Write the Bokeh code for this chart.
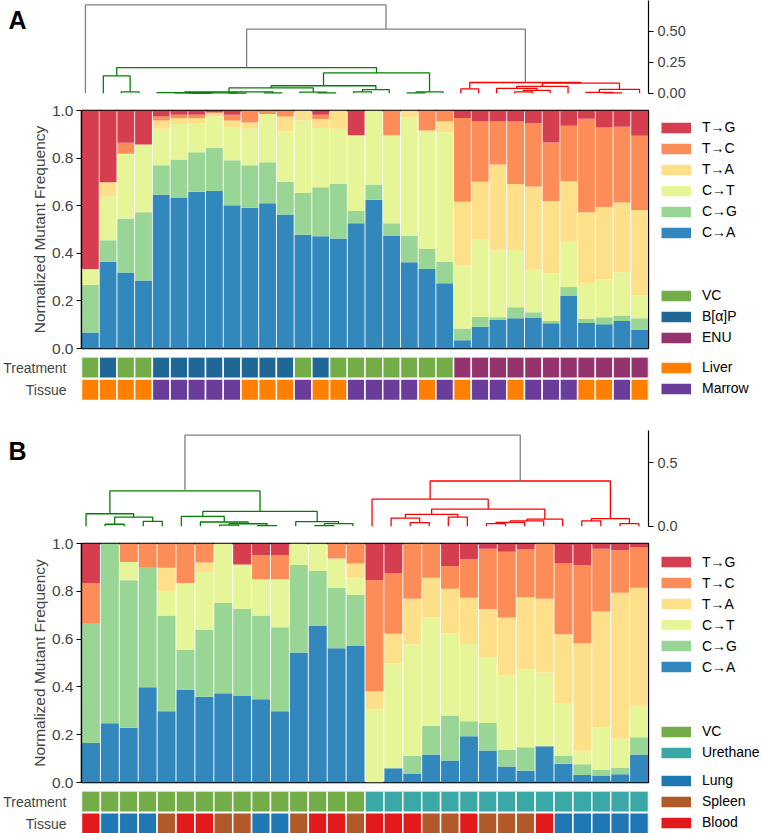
from bokeh.plotting import figure
from bokeh.models import (Range1d, LinearAxis, FixedTicker, NumeralTickFormatter,
                          Legend, LegendItem, Label, ColumnDataSource)
from bokeh.layouts import column, row
from bokeh.embed import file_html
from bokeh.resources import INLINE

FONT = "Liberation Sans"

# ---------------- shared categories ----------------
MUT_KEYS = ["CA", "CG", "CT", "TA", "TC", "TG"]
MUT_LABELS = ["C→A", "C→G", "C→T", "T→A", "T→C", "T→G"]
MUT_COLORS = ["#3288bd", "#99d594", "#e6f598", "#fee08b", "#fc8d59", "#d53e4f"]
BAR_TICKS = [0.0, 0.2, 0.4, 0.6, 0.8, 1.0]
ROW_LABELS = {1: "Treatment", 0: "Tissue"}

# ---------------- panel A data ----------------
A_CA = [.067, .365, .319, .286, .646, .634, .659, .662, .602, .591, .610, .563, .478, .472, .462, .526,
        .625, .475, .362, .334, .274, .035, .091, .121, .127, .128, .106, .223, .107, .102, .116, .078]
A_CG = [.200, .090, .227, .286, .124, .160, .166, .181, .189, .179, .173, .138, .175, .206, .230, .052,
        .064, .051, .112, .084, .090, .049, .041, .010, .046, .024, .010, .035, .018, .029, .023, .049]
A_CT = [.067, .183, .272, .285, .153, .149, .123, .132, .139, .153, .202, .211, .305, .248, .231, .318,
        .311, .370, .498, .498, .545, .267, .328, .281, .241, .179, .200, .188, .147, .160, .181, .097]
A_TA = [0, .061, 0, 0, .035, .025, .020, .014, .028, .027, 0, .063, .042, .038, .077, 0,
        0, 0, .028, 0, .046, .266, .241, .361, .277, .350, .304, .257, .300, .304, .293, .358]
A_TC = [0, 0, .046, 0, .017, .014, .014, .004, .024, .050, .015, .025, 0, .018, 0, 0,
        0, .104, 0, .084, .045, .351, .253, .181, .263, .265, .246, .233, .393, .334, .319, .312]
A_TG = [.666, .301, .136, .143, .025, .018, .018, .007, .018, 0, 0, 0, 0, .018, 0, .104,
        0, 0, 0, 0, 0, .032, .046, .046, .046, .054, .134, .064, .035, .071, .068, .106]
A_TREAT = (["VC", "B[α]P", "VC", "VC"] + ["B[α]P"] * 8 + ["VC", "B[α]P", "VC", "VC"]
           + ["VC"] * 5 + ["ENU"] * 11)
A_TISSUE = ["Liver", "Liver", "Liver", "Liver", "Marrow", "Marrow", "Marrow", "Marrow", "Marrow",
            "Liver", "Liver", "Liver", "Marrow", "Liver", "Liver", "Marrow", "Marrow", "Marrow",
            "Marrow", "Liver", "Marrow", "Liver", "Marrow", "Marrow", "Liver", "Marrow", "Marrow",
            "Marrow", "Liver", "Liver", "Marrow", "Liver"]
A_TREAT_CATS = ["VC", "B[α]P", "ENU"]
A_TREAT_COLORS = ["#72ad48", "#1f6895", "#94336e"]
A_TISSUE_CATS = ["Liver", "Marrow"]
A_TISSUE_COLORS = ["#ff7f00", "#6a3d9a"]
# dendrogram A: (child, child, height); ints = leaf (1-based), "m#" = earlier merge
A_LINKS = [
    (3, 4, 0.012), (2, "m0", 0.141),
    (7, 8, 0.002), (6, "m2", 0.003), (9, 10, 0.002), ("m3", "m4", 0.004), (5, "m5", 0.006),
    (11, 12, 0.003), ("m6", "m7", 0.012), (14, 15, 0.004), (13, "m9", 0.010),
    ("m8", "m10", 0.043), (16, 17, 0.012), ("m12", 18, 0.030), ("m11", "m13", 0.061),
    (19, 20, 0.004), ("m15", 21, 0.012), ("m14", "m16", 0.164), ("m1", "m17", 0.207),
    (22, 23, 0.036), (25, 26, 0.012), ("m20", 27, 0.023), (24, "m21", 0.039),
    ("m22", 28, 0.056), (30, 31, 0.003), (29, "m24", 0.008), ("m25", 32, 0.031),
    ("m23", "m26", 0.082), ("m19", "m27", 0.087),
    ("m18", "m28", 0.518), (1, "m29", 0.7125),
]
A_LINK_COLORS = ["#008000"] * 19 + ["#ff0000"] * 10 + ["#808080"] * 2
A_DEND_TICKS = [0.0, 0.25, 0.5]

# ---------------- panel B data ----------------
B_CA = [.165, .248, .229, .399, .298, .387, .359, .373, .364, .348, .298, .544, .655, .562, .571,
        0, .060, .036, .117, .092, .193, .134, .067, .049, .152, .078, .031, .029, .034, .117]
B_CG = [.499, .752, .617, .500, .401, .168, .280, .378, .363, .351, .352, .366, .230, .252, .215,
        0, 0, .076, .121, .188, .063, .115, .070, .098, 0, .034, .045, .024, .028, .072]
B_CT = [0, 0, .077, 0, .101, .280, .242, .249, .185, .151, .200, .090, .115, .123, .071,
        .305, .439, .466, .452, .345, .324, .273, .311, .327, .308, .221, .057, .178, .121, .130]
B_TA = [0, 0, 0, 0, .099, 0, .039, 0, 0, 0, 0, 0, 0, 0, .059,
        .077, .123, .191, .167, .186, .193, .204, .242, .301, .309, .287, .450, .484, .611, .496]
B_TC = [.171, 0, .077, .101, .101, .165, .080, 0, 0, .101, .101, 0, 0, .063, .084,
        .464, .252, .231, .143, .095, .161, .252, .275, .200, .231, .296, .326, .263, .178, .168]
B_TG = [.165, 0, 0, 0, 0, 0, 0, 0, .088, .049, .049, 0, 0, 0, 0,
        .154, .126, 0, 0, .094, .066, .022, .035, .025, 0, .084, .091, .022, .028, .017]
B_TREAT = ["VC"] * 15 + ["Urethane"] * 15
B_TISSUE = ["Blood", "Lung", "Lung", "Lung", "Spleen", "Blood", "Blood", "Spleen", "Spleen", "Lung",
            "Lung", "Spleen", "Blood", "Blood", "Spleen", "Blood", "Blood", "Blood", "Spleen", "Spleen",
            "Blood", "Spleen", "Spleen", "Spleen", "Blood", "Lung", "Lung", "Lung", "Lung", "Lung"]
B_TREAT_CATS = ["VC", "Urethane"]
B_TREAT_COLORS = ["#72ad48", "#3aa8a6"]
B_TISSUE_CATS = ["Lung", "Spleen", "Blood"]
B_TISSUE_COLORS = ["#1f78b4", "#b15928", "#e31a1c"]
B_LINKS = [
    (2, 3, 0.016), (4, 5, 0.039), ("m0", "m1", 0.073), (1, "m2", 0.099),
    (8, 9, 0.010), (10, 11, 0.006), ("m4", "m5", 0.020), (7, "m6", 0.034), (6, "m7", 0.078),
    (13, 14, 0.006), ("m9", 15, 0.021), (12, "m10", 0.037), ("m8", "m11", 0.117),
    ("m3", "m12", 0.279),
    (18, 19, 0.029), (17, "m14", 0.065), (20, 21, 0.073), ("m15", "m16", 0.094),
    (22, 23, 0.021), ("m18", 24, 0.031), ("m19", 25, 0.042), ("m20", 26, 0.057),
    ("m17", "m21", 0.136), (16, "m22", 0.214), (27, 28, 0.042), (29, 30, 0.021),
    ("m24", "m25", 0.060), ("m23", "m26", 0.357),
    ("m13", "m27", 0.719),
]
B_LINK_COLORS = ["#008000"] * 14 + ["#ff0000"] * 14 + ["#808080"]
B_DEND_TICKS = [0.0, 0.5]

# ---------------- layout geometry (window pixels) ----------------
W = 762
FL, FR = 76, 648           # plot frame left / right
PLOT_W = FR + 2            # width of bars / rows figures
LEG_W = W - PLOT_W


def yrange(v_a, y_a, v_b, y_b, top, bottom):
    k = (v_b - v_a) / (y_a - y_b)
    return Range1d(v_a + (y_a - bottom) * k, v_a + (y_a - top) * k)


def dendro_lines(n, links):
    xpos = [i + 0.5 for i in range(n)]
    hs = [0.0] * n

    def ref(c):
        return n + int(c[1:]) if isinstance(c, str) else c - 1

    xs, ys = [], []
    for a, b, h in links:
        ia, ib = ref(a), ref(b)
        xs.append([xpos[ia], xpos[ia], xpos[ib], xpos[ib]])
        ys.append([hs[ia], h, h, hs[ib]])
        xpos.append((xpos[ia] + xpos[ib]) / 2)
        hs.append(h)
    return xs, ys, max(hs)


def base_fig(w, h, xr, yr, bl=0, br=0, bt=0, bb=0):
    p = figure(width=w, height=h, x_range=xr, y_range=yr, x_axis_location=None,
               y_axis_location=None, toolbar_location=None, output_backend="svg",
               min_border_left=bl, min_border_right=br, min_border_top=bt,
               min_border_bottom=bb, outline_line_color=None)
    p.grid.grid_line_color = None
    return p


def legend_block(p, labels, colors, top_y, fb):
    items = []
    for lab, col in zip(labels, colors):
        r = p.line(x=[-5, -4], y=[-5, -5], line_color=col, line_width=10.5)
        items.append(LegendItem(label=lab, renderers=[r]))
    p.add_layout(Legend(items=items, location=(661 - PLOT_W, fb - (top_y + 21 * len(items))),
                        glyph_width=30, glyph_height=21, label_height=21, spacing=0, padding=0,
                        margin=0, label_standoff=11, border_line_color=None,
                        background_fill_alpha=0, label_text_font=FONT,
                        label_text_font_size="14px", label_text_color="black"))


def make_panel(letter, cols, treat, tissue, treat_cats, treat_cols, tis_cats, tis_cols,
               links, link_cols, dticks, dfmt, g):
    n = len(treat)
    # ---- dendrogram figure (full width, frame from window x=0 to FR)
    xs, ys, root = dendro_lines(n, links)
    dtop = root * 1.05
    xr_d = Range1d(-FL * n / (FR - FL), n)
    pd = base_fig(W, g["d_bot"] - g["d_top"], xr_d,
                  yrange(0, g["d0"], dtop, g["d1"], g["d_top"], g["d_bot"]), br=W - FR)
    dsrc = ColumnDataSource(dict(xs=xs, ys=ys, c=link_cols))
    pd.multi_line("xs", "ys", line_color="c", line_width=1.3, source=dsrc)
    pd.add_layout(LinearAxis(ticker=FixedTicker(ticks=dticks),
                             formatter=NumeralTickFormatter(format=dfmt), bounds=(0, dtop),
                             major_label_text_font=FONT, major_label_text_font_size="14.5px",
                             major_tick_out=5, major_tick_in=0, minor_tick_line_color=None,
                             major_label_standoff=4, axis_line_width=1.2), "right")
    pd.add_layout(Label(x=xr_d.start, y=dtop, text=letter, text_align="left",
                        text_baseline="top", x_offset=8, y_offset=g["letter_dy"],
                        text_font=FONT, text_font_size="25px", text_font_style="bold",
                        text_color="black"))
    # ---- stacked bars
    b_top, b_bot = g["d_bot"], g["b_bot"]
    pb = base_fig(PLOT_W, b_bot - b_top, Range1d(0, n), Range1d(0, 1), bl=FL, br=PLOT_W - FR,
                  bt=g["bar1"] - b_top, bb=b_bot - g["bar0"])
    pb.outline_line_color = "black"
    pb.outline_line_width = 1.3
    src = ColumnDataSource(dict(x=[i + 0.5 for i in range(n)],
                                **{k: v for k, v in zip(MUT_KEYS, cols)}))
    pb.vbar_stack(MUT_KEYS, x="x", width=0.95, fill_color=MUT_COLORS, line_color=None, source=src)
    pb.add_layout(LinearAxis(ticker=FixedTicker(ticks=BAR_TICKS),
                             formatter=NumeralTickFormatter(format="0.0"),
                             axis_label="Normalized Mutant Frequency",
                             axis_label_text_font=FONT, axis_label_text_font_size="15.5px",
                             axis_label_text_font_style="normal", axis_label_standoff=1,
                             major_label_text_font=FONT, major_label_text_font_size="15.5px",
                             major_tick_out=5, major_tick_in=0, minor_tick_line_color=None,
                             major_label_standoff=3, axis_line_width=1.3), "left")
    # ---- annotation rows
    r_bot = g["r_bot"]
    pr = base_fig(PLOT_W, r_bot - b_bot, Range1d(0, n),
                  yrange(0, g["tissue"], 1, g["treat"], b_bot, r_bot), bl=FL, br=PLOT_W - FR)
    tmap = dict(zip(treat_cats, treat_cols))
    smap = dict(zip(tis_cats, tis_cols))
    rsrc = ColumnDataSource(dict(x=[i + 0.5 for i in range(n)] * 2,
                                 y=[1] * n + [0] * n,
                                 c=[tmap[t] for t in treat] + [smap[s] for s in tissue]))
    pr.rect("x", "y", width=1, height=21.5 / abs(g["tissue"] - g["treat"]), fill_color="c",
            line_color="white", line_width=1.5, source=rsrc)
    pr.add_layout(LinearAxis(ticker=FixedTicker(ticks=list(ROW_LABELS)),
                             major_label_overrides=ROW_LABELS, axis_line_color=None,
                             major_tick_line_color=None, minor_tick_line_color=None,
                             major_label_standoff=9, major_label_text_font=FONT,
                             major_label_text_font_size="14px"), "left")
    # ---- legends figure
    pl = base_fig(LEG_W, r_bot - b_top, Range1d(0, 1), Range1d(0, 1))
    legend_block(pl, MUT_LABELS[::-1], MUT_COLORS[::-1], g["leg"][0], r_bot)
    legend_block(pl, treat_cats, treat_cols, g["leg"][1], r_bot)
    legend_block(pl, tis_cats, tis_cols, g["leg"][2], r_bot)
    return column(pd, row(column(pb, pr, spacing=0), pl, spacing=0), spacing=0)


geoA = dict(d_top=0, d_bot=101, d0=92.8, d1=0, bar1=110, bar0=348, b_bot=357,
            treat=367, tissue=389.3, r_bot=400, letter_dy=-5, leg=(116.8, 284.5, 356.8))
geoB = dict(d_top=400, d_bot=534, d0=525.8, d1=430, bar1=543, bar0=782, b_bot=791,
            treat=801, tissue=823, r_bot=833, letter_dy=-6, leg=(551.2, 720.5, 769.5))

panelA = make_panel("A", [A_CA, A_CG, A_CT, A_TA, A_TC, A_TG], A_TREAT, A_TISSUE,
                    A_TREAT_CATS, A_TREAT_COLORS, A_TISSUE_CATS, A_TISSUE_COLORS,
                    A_LINKS, A_LINK_COLORS, A_DEND_TICKS, "0.00", geoA)
panelB = make_panel("B", [B_CA, B_CG, B_CT, B_TA, B_TC, B_TG], B_TREAT, B_TISSUE,
                    B_TREAT_CATS, B_TREAT_COLORS, B_TISSUE_CATS, B_TISSUE_COLORS,
                    B_LINKS, B_LINK_COLORS, B_DEND_TICKS, "0.0", geoB)

layout = column(panelA, panelB, spacing=0)
open("out.html", "w").write(file_html(layout, INLINE))
